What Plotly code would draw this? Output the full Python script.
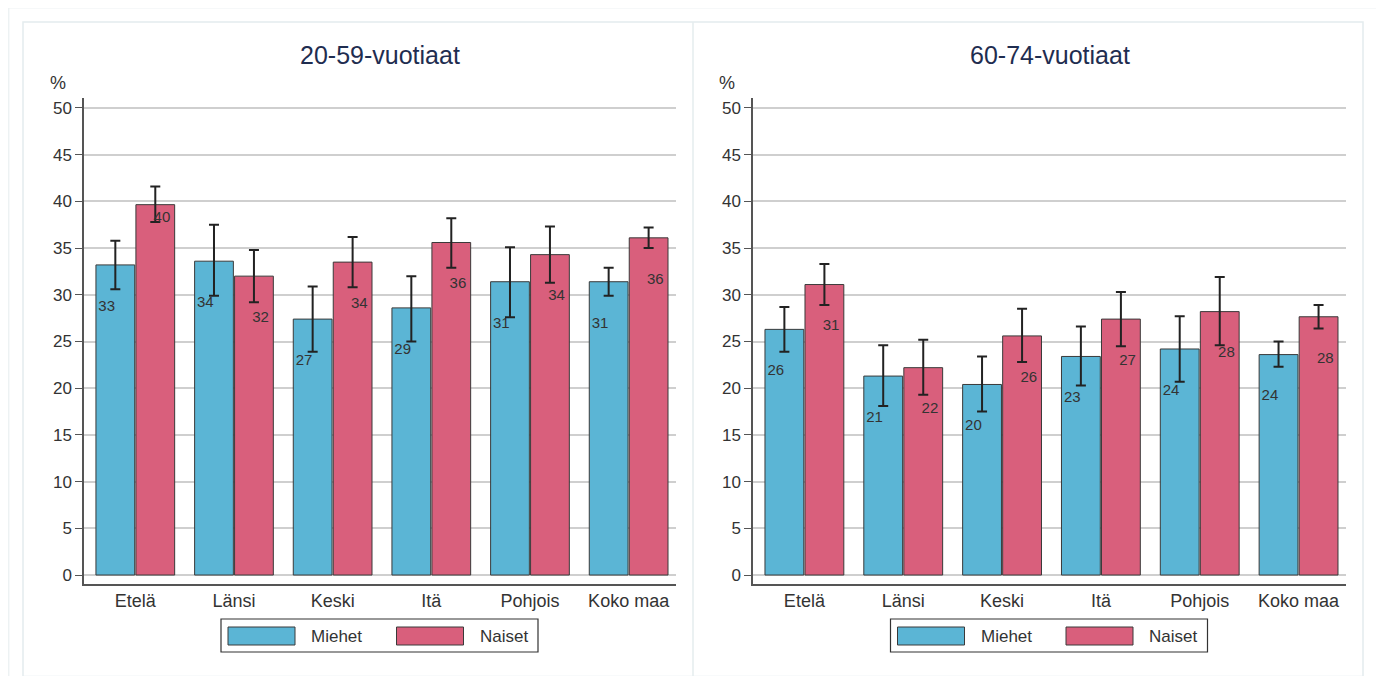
import plotly.graph_objects as go

# ---------------- data ----------------
categories = ["Etelä", "Länsi", "Keski", "Itä", "Pohjois", "Koko maa"]
panel_titles = ["20-59-vuotiaat", "60-74-vuotiaat"]
series_names = ["Miehet", "Naiset"]

young_miehet = [33.2, 33.6, 27.4, 28.6, 31.4, 31.4]
young_miehet_lo = [30.6, 29.9, 23.9, 25.0, 27.6, 29.9]
young_miehet_hi = [35.8, 37.5, 30.9, 32.0, 35.1, 32.9]
young_naiset = [39.65, 32.0, 33.5, 35.6, 34.3, 36.1]
young_naiset_lo = [37.8, 29.2, 30.8, 32.9, 31.3, 35.0]
young_naiset_hi = [41.6, 34.8, 36.2, 38.2, 37.3, 37.2]

old_miehet = [26.3, 21.3, 20.4, 23.4, 24.2, 23.6]
old_miehet_lo = [23.9, 18.1, 17.5, 20.3, 20.7, 22.3]
old_miehet_hi = [28.7, 24.6, 23.4, 26.6, 27.7, 25.0]
old_naiset = [31.1, 22.2, 25.6, 27.4, 28.2, 27.65]
old_naiset_lo = [28.9, 19.3, 22.8, 24.5, 24.6, 26.4]
old_naiset_hi = [33.3, 25.2, 28.5, 30.3, 31.9, 28.9]

y_ticks = [0, 5, 10, 15, 20, 25, 30, 35, 40, 45, 50]

# ---------------- style ----------------
W, H = 1368, 668          # page body adds an 8px margin
OFF = 8
COL = {"Miehet": "#5bb5d5", "Naiset": "#d95f7c"}
FONT = "Liberation Sans, Arial, sans-serif"
TXT = "#333333"


def px(x):
    return (x - OFF) / W


def py(y):
    return 1 - (y - OFF) / H


domains = [(px(84), px(676)), (px(753), px(1346))]
ydom = (py(584), py(98))
label_drop = 4.5
label_shift = {"Miehet": -0.29, "Naiset": 0.27}
# the one label that sits just under the bar top instead of lower down
label_drop_override = {(0, "Naiset", 0): 1.5}

panels = [
    {"Miehet": (young_miehet, young_miehet_lo, young_miehet_hi),
     "Naiset": (young_naiset, young_naiset_lo, young_naiset_hi)},
    {"Miehet": (old_miehet, old_miehet_lo, old_miehet_hi),
     "Naiset": (old_naiset, old_naiset_lo, old_naiset_hi)},
]

fig = go.Figure()
xs = list(range(len(categories)))

for p, panel in enumerate(panels):
    xa = "x" if p == 0 else "x2"
    ya = "y" if p == 0 else "y2"
    for name in series_names:
        vals, lo, hi = panel[name]
        fig.add_trace(go.Bar(
            x=xs, y=vals, name=name, xaxis=xa, yaxis=ya,
            offsetgroup=name, showlegend=False,
            marker=dict(color=COL[name], line=dict(color="#3a3a3a", width=1)),
            error_y=dict(type="data", symmetric=False,
                         array=[h - v for h, v in zip(hi, vals)],
                         arrayminus=[v - l for v, l in zip(vals, lo)],
                         color="#222222", thickness=2, width=5),
        ))
    for name in series_names:
        vals = panel[name][0]
        ty = [v - label_drop_override.get((p, name, i), label_drop)
              for i, v in enumerate(vals)]
        fig.add_trace(go.Scatter(
            x=[i + label_shift[name] for i in xs], y=ty, mode="text",
            text=[f"{round(v):d}" for v in vals], xaxis=xa, yaxis=ya,
            textfont=dict(family=FONT, size=15, color=TXT),
            showlegend=False, hoverinfo="skip",
        ))

axis_common_x = dict(
    range=[-0.52, 5.48], tickmode="array", tickvals=xs, ticktext=categories,
    showline=True, linecolor="#555555", linewidth=1.5, ticks="",
    showgrid=False, zeroline=False,
    tickfont=dict(family=FONT, size=18, color=TXT), fixedrange=True,
)
axis_common_y = dict(
    range=[-0.96, 51.07], tickmode="array", tickvals=y_ticks,
    showline=True, linecolor="#555555", linewidth=1.5,
    ticks="outside", ticklen=7, tickcolor="#555555", tickwidth=1.2,
    showgrid=True, gridcolor="#cfcfcf", gridwidth=1.5, zeroline=False,
    tickfont=dict(family=FONT, size=17, color=TXT), fixedrange=True,
)

fig.update_layout(
    width=W, height=H,
    margin=dict(l=0, r=0, t=0, b=0),
    paper_bgcolor="white", plot_bgcolor="white",
    barmode="group", bargap=0.19, bargroupgap=0.03,
    xaxis=dict(domain=domains[0], anchor="y", **axis_common_x),
    xaxis2=dict(domain=domains[1], anchor="y2", **axis_common_x),
    yaxis=dict(domain=ydom, anchor="x", **axis_common_y),
    yaxis2=dict(domain=ydom, anchor="x2", **axis_common_y),
    font=dict(family=FONT, color=TXT),
)

shapes = []
annotations = []
# frames
shapes.append(dict(type="path", xref="paper", yref="paper",
                   path=f"M {px(8.7)},0 L {px(8.7)},{py(7.7)} "
                        f"L {px(1377.3)},{py(7.7)} L {px(1377.3)},0",
                   line=dict(color="#edf2f3", width=1.5), layer="below"))
shapes.append(dict(type="rect", xref="paper", yref="paper",
                   x0=px(23), x1=px(1363), y0=py(676.5), y1=py(22),
                   line=dict(color="#e4ecee", width=1.5), layer="below"))
shapes.append(dict(type="line", xref="paper", yref="paper",
                   x0=px(693), x1=px(693), y0=py(676.5), y1=py(22),
                   line=dict(color="#e4ecee", width=1.5), layer="below"))

for p in range(2):
    d0, d1 = domains[p]
    cx = (d0 + d1) / 2 * W + OFF
    annotations.append(dict(text=panel_titles[p], xref="paper", yref="paper",
                            x=px(cx), y=py(55), showarrow=False,
                            xanchor="center", yanchor="middle",
                            font=dict(family=FONT, size=25, color="#1f2d50")))
    annotations.append(dict(text="%", xref="paper", yref="paper",
                            x=px(d0 * W + OFF - 26), y=py(83), showarrow=False,
                            xanchor="center", yanchor="middle",
                            font=dict(family=FONT, size=18, color=TXT)))
    # legend box
    lx0 = cx - 159
    shapes.append(dict(type="rect", xref="paper", yref="paper",
                       x0=px(lx0), x1=px(lx0 + 317), y0=py(652), y1=py(619),
                       line=dict(color="#333333", width=1.2),
                       fillcolor="white"))
    for k, name in enumerate(series_names):
        sx = lx0 + 7 + k * 168.5
        shapes.append(dict(type="rect", xref="paper", yref="paper",
                           x0=px(sx), x1=px(sx + 67), y0=py(645), y1=py(627),
                           line=dict(color="#3a3a3a", width=1),
                           fillcolor=COL[name]))
        annotations.append(dict(text=name, xref="paper", yref="paper",
                                x=px(sx + 81), y=py(636), showarrow=False,
                                xanchor="left", yanchor="middle",
                                font=dict(family=FONT, size=17, color=TXT)))

fig.update_layout(shapes=shapes, annotations=annotations)
fig.write_html("out.html")
